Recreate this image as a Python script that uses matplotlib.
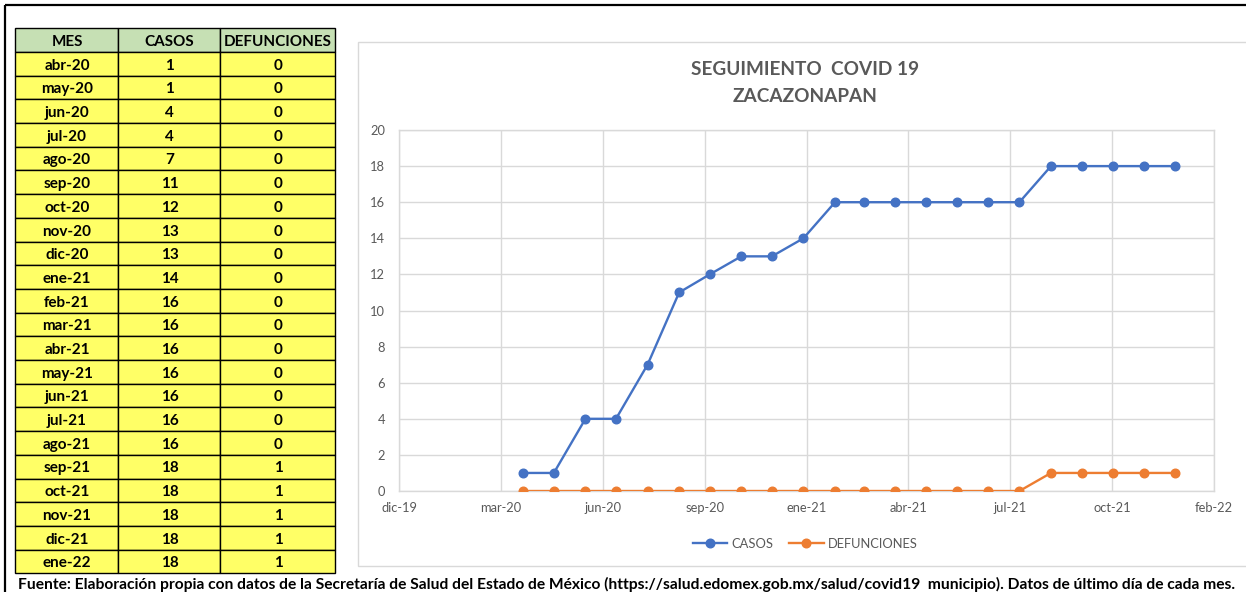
import numpy as np
import matplotlib
matplotlib.use('Agg')
import matplotlib.pyplot as plt
import matplotlib.dates as mdates
from matplotlib.patches import Rectangle

# ---------------- data ----------------
MESES = ['abr-20', 'may-20', 'jun-20', 'jul-20', 'ago-20', 'sep-20', 'oct-20',
         'nov-20', 'dic-20', 'ene-21', 'feb-21', 'mar-21', 'abr-21', 'may-21',
         'jun-21', 'jul-21', 'ago-21', 'sep-21', 'oct-21', 'nov-21', 'dic-21',
         'ene-22']
CASOS = [1, 1, 4, 4, 7, 11, 12, 13, 13, 14, 16, 16, 16, 16, 16, 16, 16,
         18, 18, 18, 18, 18]
DEFUNCIONES = [0, 0, 0, 0, 0, 0, 0, 0, 0, 0, 0, 0, 0, 0, 0, 0, 0,
               1, 1, 1, 1, 1]
HEADERS = ['MES', 'CASOS', 'DEFUNCIONES']
XTICK_LABELS = ['dic-19', 'mar-20', 'jun-20', 'sep-20', 'ene-21', 'abr-21',
                'jul-21', 'oct-21', 'feb-22']
YTICKS = [0, 2, 4, 6, 8, 10, 12, 14, 16, 18, 20]
TITLE = 'SEGUIMIENTO  COVID 19\nZACAZONAPAN'
SERIES_NAMES = ['CASOS', 'DEFUNCIONES']
FUENTE = ('Fuente: Elaboración propia con datos de la Secretaría de Salud del '
          'Estado de México (https://salud.edomex.gob.mx/salud/covid19  '
          'municipio). Datos de último día de cada mes.')

MES_NUM = {'ene': 1, 'feb': 2, 'mar': 3, 'abr': 4, 'may': 5, 'jun': 6,
           'jul': 7, 'ago': 8, 'sep': 9, 'oct': 10, 'nov': 11, 'dic': 12}


def to_date(s):
    m, y = s.split('-')
    return np.datetime64(f'20{y}-{MES_NUM[m]:02d}-01')


fechas = mdates.date2num(np.array([to_date(m) for m in MESES]))
x_start = mdates.date2num(np.datetime64('2019-12-01'))
x_step = 100  # days between major ticks (Excel date axis)
xticks = x_start + x_step * np.arange(len(XTICK_LABELS))

# ---------------- figure ----------------
W, H = 1246, 592
plt.rcParams['font.family'] = ['Lato', 'DejaVu Sans']
fig = plt.figure(figsize=(W / 100, H / 100), dpi=100)
fig.patch.set_facecolor('white')

bg = fig.add_axes([0, 0, 1, 1], zorder=0)
bg.set_xlim(0, W)
bg.set_ylim(H, 0)
bg.axis('off')

# outer black border (top + left)
bg.plot([5, W + 5], [5, 5], color='black', lw=1.6, solid_capstyle='butt')
bg.plot([5, 5], [5, H + 5], color='black', lw=1.6, solid_capstyle='butt')

# chart area frame
bg.add_patch(Rectangle((358, 42), 900, 524, facecolor='white',
                       edgecolor='#D9D9D9', lw=1.0))

# ---------------- table ----------------
col_edges = [15, 118, 220, 335]
top, bottom = 28.3, 573.3
nrows = len(MESES) + 1
rh = (bottom - top) / nrows
rows = [HEADERS] + [[m, str(c), str(d)] for m, c, d in zip(MESES, CASOS, DEFUNCIONES)]
for r, row in enumerate(rows):
    y0 = top + r * rh
    fc = '#C6E0B4' if r == 0 else '#FFFF66'
    for c in range(3):
        x0, x1 = col_edges[c], col_edges[c + 1]
        bg.add_patch(Rectangle((x0, y0), x1 - x0, rh, facecolor=fc,
                               edgecolor='black', lw=1.0))
        bg.text((x0 + x1) / 2 + 0.5, y0 + rh / 2 + 1.8, row[c], ha='center',
                va='center', fontsize=11.0, fontweight='bold', color='black')

# footnote
bg.text(18, 584, FUENTE, ha='left', va='center', fontsize=11.25,
        fontweight='bold', color='black')

# chart title
bg.text(805, 83, TITLE, ha='center', va='center', fontsize=13.7,
        fontweight='bold', color='#595959', linespacing=1.75)

# ---------------- chart ----------------
L, R, T, B = 399, 1214, 130, 491
ax = fig.add_axes([L / W, 1 - B / H, (R - L) / W, (B - T) / H], zorder=2)
ax.patch.set_alpha(0)
ax.plot(fechas, CASOS, color='#4472C4', lw=1.7, marker='o', ms=6.2,
        label=SERIES_NAMES[0], zorder=3)
ax.plot(fechas, DEFUNCIONES, color='#ED7D31', lw=1.7, marker='o', ms=6.2,
        label=SERIES_NAMES[1], zorder=3)
ax.set_xlim(xticks[0], xticks[-1])
ax.set_ylim(YTICKS[0], YTICKS[-1])
ax.set_xticks(xticks)
ax.set_xticklabels(XTICK_LABELS)
ax.set_yticks(YTICKS)
ax.grid(True, color='#D9D9D9', lw=1.0)
ax.set_axisbelow(True)
for s in ax.spines.values():
    s.set_color('#D9D9D9')
    s.set_linewidth(1.0)
ax.tick_params(length=0, labelsize=9.3, labelcolor='#595959')
ax.tick_params(axis='y', pad=10)
ax.tick_params(axis='x', pad=8)

leg = ax.legend(loc='center', bbox_to_anchor=(805 / W, 1 - 544 / H),
                bbox_transform=fig.transFigure, ncol=2, frameon=False,
                fontsize=9.3, handlelength=2.7, columnspacing=1.2,
                handletextpad=0.3)
for t in leg.get_texts():
    t.set_color('#595959')

fig.savefig('out.png', dpi=100, facecolor='white')
